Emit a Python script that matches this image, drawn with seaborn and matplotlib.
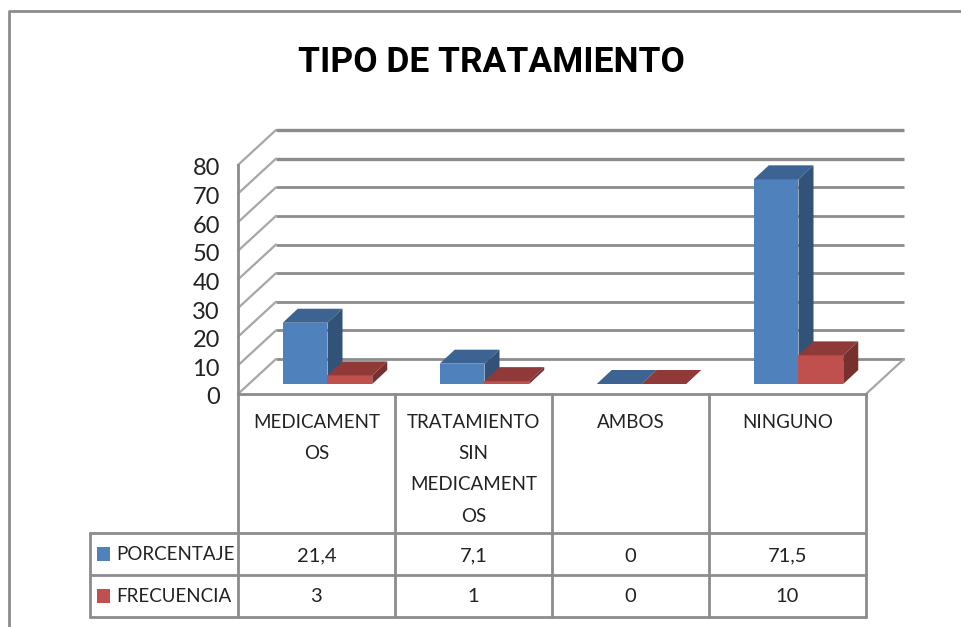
import matplotlib
matplotlib.use("Agg")
import matplotlib.pyplot as plt
import pandas as pd
import seaborn as sns
from matplotlib.patches import Polygon, Rectangle
from matplotlib.transforms import Affine2D, IdentityTransform

categorias = ["MEDICAMENTOS", "TRATAMIENTO SIN MEDICAMENTOS", "AMBOS", "NINGUNO"]
etiquetas = [["MEDICAMENT", "OS"], ["TRATAMIENTO", "SIN", "MEDICAMENT", "OS"], ["AMBOS"], ["NINGUNO"]]
porcentaje = [21.4, 7.1, 0, 71.5]
frecuencia = [3, 1, 0, 10]
porcentaje_txt = ["21,4", "7,1", "0", "71,5"]
frecuencia_txt = ["3", "1", "0", "10"]
yticks = [0, 10, 20, 30, 40, 50, 60, 70, 80]

AZUL = "#4f81bd"
ROJO = "#c0504d"
LINEA = "#8c8c8c"
W, H = 962, 627

sns.set_style("white")
plt.rcParams["font.family"] = ["Lato", "DejaVu Sans"]

df = pd.DataFrame({
    "categoria": categorias * 2,
    "valor": porcentaje + frecuencia,
    "serie": ["PORCENTAJE"] * 4 + ["FRECUENCIA"] * 4,
})

fig = plt.figure(figsize=(W / 100, H / 100), dpi=100)

# fondo en pixeles: marco, paredes y tabla
bg = fig.add_axes([0, 0, 1, 1], zorder=1)
bg.set_xlim(0, W)
bg.set_ylim(H, 0)
bg.axis("off")

# ejes del grafico: x 238-866, y 394-165 en pixeles
x0, x1, y0, y1 = 238, 866, 394, 165
ax = fig.add_axes([x0 / W, 1 - y0 / H, (x1 - x0) / W, (y0 - y1) / H], zorder=2)
ax.patch.set_visible(False)
sns.barplot(data=df, x="categoria", y="valor", hue="serie", order=categorias,
            hue_order=["PORCENTAJE", "FRECUENCIA"], palette=[AZUL, ROJO],
            width=0.57, saturation=1, legend=False, ax=ax)
ax.set_ylim(0, 80)
ax.set_xlim(-0.5, 3.5)
ax.set_xlabel("")
ax.set_ylabel("")
ax.set_xticks([])
ax.set_yticks(yticks)
ax.tick_params(axis="y", length=0, pad=13, labelsize=17, labelcolor="#222222")
# las etiquetas del eje van 2 px mas abajo
for etiqueta in ax.get_yticklabels():
    etiqueta.set_transform(etiqueta.get_transform() + Affine2D().translate(0, -2))
sns.despine(ax=ax, top=True, right=True)
for lado in ["left", "bottom"]:
    ax.spines[lado].set_color(LINEA)
    ax.spines[lado].set_linewidth(2)

# profundidad de la pared y de las barras (pixeles)
dx_pared, dy_pared = 38, 35
dx_barra, dy_barra = 11, 10
fx, fy = 15, 14

# rejilla de la pared del fondo, a partir de la escala del eje
for t in yticks:
    ypx = H - ax.transData.transform((0, t))[1]
    lw = 2.4 if t >= 70 else 2
    bg.plot([x0 + dx_pared, x1 + dx_pared], [ypx - dy_pared] * 2, color=LINEA, lw=lw, solid_capstyle="butt")
    bg.plot([x0, x0 + dx_pared], [ypx, ypx - dy_pared], color="#a6a6a6", lw=1.6)
bg.plot([x1, x1 + dx_pared], [y0, y0 - dy_pared], color="#a6a6a6", lw=1.6)

# caras 3D de cada barra
desplaza = Affine2D().translate(dx_barra, dy_barra)
colores = [("#3c6391", "#325278"), ("#8f3a38", "#76302e")]
for i, barra in enumerate(ax.patches):
    barra.set_transform(ax.transData + desplaza)
    barra.set_clip_on(False)
    barra.set_linewidth(0)
    serie = i // 4
    barra.set_zorder(3 + serie)
    (xa, ya), (xb, yb) = ax.transData.transform(barra.get_bbox().get_points()) + (dx_barra, dy_barra)
    tapa = [(xa, yb), (xb, yb), (xb + fx, yb + fy), (xa + fx, yb + fy)]
    lateral = [(xb, ya), (xb + fx, ya + fy), (xb + fx, yb + fy), (xb, yb)]
    ax.add_patch(Polygon(tapa, closed=True, fc=colores[serie][0], ec="none", clip_on=False,
                         transform=IdentityTransform(), zorder=3 + serie))
    ax.add_patch(Polygon(lateral, closed=True, fc=colores[serie][1], ec="none", clip_on=False,
                         transform=IdentityTransform(), zorder=3 + serie))

# marco exterior: izquierda y arriba
bg.plot([9, 9, W], [H, 11, 11], color=LINEA, lw=2)

bg.text(491, 63, "TIPO DE TRATAMIENTO", ha="center", va="center", fontsize=25.5, fontweight="bold",
        family=["Roboto", "DejaVu Sans"], color="black")

# tabla de datos
columnas = [x0 + (x1 - x0) * i / 4 for i in range(5)]
fila_cat, fila_a, fila_b = 533, 575, 617
for xc in columnas:
    bg.plot([xc, xc], [y0, fila_b], color=LINEA, lw=2)
for ylin in [fila_cat, fila_a, fila_b]:
    bg.plot([90, x1], [ylin, ylin], color=LINEA, lw=2)
bg.plot([90, 90], [fila_cat, fila_b], color=LINEA, lw=2)

COLOR_TXT = "#222222"
for i, lineas in enumerate(etiquetas):
    centro = (columnas[i] + columnas[i + 1]) / 2
    for j, linea in enumerate(lineas):
        bg.text(centro, 422 + j * 31.5, linea, ha="center", va="center", fontsize=13.5, color=COLOR_TXT)
    bg.text(centro, 556, porcentaje_txt[i], ha="center", va="center", fontsize=14.5, color=COLOR_TXT)
    bg.text(centro, 597, frecuencia_txt[i], ha="center", va="center", fontsize=14.5, color=COLOR_TXT)

for ypx, nombre, col in [(554, "PORCENTAJE", AZUL), (596, "FRECUENCIA", ROJO)]:
    bg.add_patch(Rectangle((97, ypx - 7), 13, 14, fc=col, ec="none"))
    bg.text(116, ypx + 1, nombre, ha="left", va="center", fontsize=13.5, color=COLOR_TXT)

fig.savefig("out.png", dpi=100)
